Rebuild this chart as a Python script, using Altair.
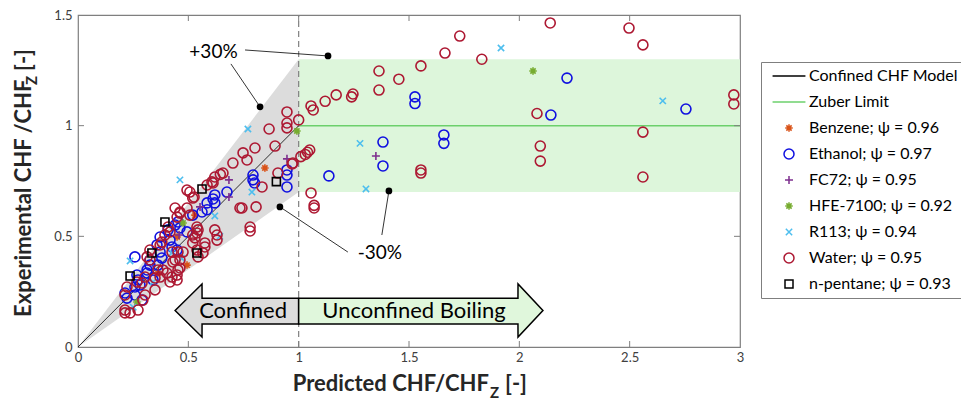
import altair as alt
import pandas as pd

# ---------------- data ----------------
benzene_x = [0.847, 0.53, 0.449, 0.494, 0.362]
benzene_y = [0.809, 0.596, 0.497, 0.37, 0.334]

ethanol_x = [1.527, 1.527, 1.658, 1.658, 1.382, 1.382, 1.137, 2.216, 2.143, 2.755,
             0.793, 0.793, 0.80, 0.947, 0.947, 0.947, 0.675, 0.62, 0.612, 0.585,
             0.62, 0.585, 0.562, 0.52, 0.453, 0.462, 0.494, 0.417, 0.426, 0.372,
             0.38, 0.362, 0.326, 0.313, 0.258, 0.267, 0.272, 0.281, 0.258, 0.213,
             0.222, 0.258, 0.372, 0.449, 0.358, 0.326, 0.29, 0.313, 0.34, 0.408, 0.44]
ethanol_y = [1.13, 1.10, 0.958, 0.92, 0.926, 0.818, 0.773, 1.215, 1.048, 1.075,
             0.777, 0.755, 0.741, 0.80, 0.777, 0.723, 0.70, 0.687, 0.669, 0.651,
             0.651, 0.62, 0.61, 0.596, 0.565, 0.538, 0.52, 0.483, 0.452, 0.497,
             0.402, 0.37, 0.37, 0.348, 0.407, 0.325, 0.303, 0.28, 0.271, 0.244,
             0.221, 0.235, 0.429, 0.438, 0.461, 0.393, 0.212, 0.334, 0.303, 0.529, 0.551]

fc72_x = [1.35, 0.947, 0.684, 0.684, 0.553, 0.458]
fc72_y = [0.863, 0.85, 0.755, 0.678, 0.633, 0.506]

hfe_x = [2.062, 0.992, 0.476, 0.267]
hfe_y = [1.247, 0.976, 0.56, 0.203]

r113_x = [1.917, 1.278, 1.305, 2.65, 0.77, 0.788, 0.62, 0.643, 0.462, 0.236, 0.426, 0.34, 0.25, 0.47]
r113_y = [1.351, 0.92, 0.714, 1.112, 0.985, 0.70, 0.592, 0.50, 0.755, 0.389, 0.425, 0.294, 0.18, 0.40]

water_x = [1.73, 1.663, 1.83, 1.554, 1.364, 1.454, 1.364, 1.246, 1.24, 1.17,
           1.12, 1.056, 1.066, 1.00, 1.05, 1.04, 1.03, 1.01, 0.97, 1.056,
           1.07, 1.07, 1.554, 1.554, 2.08, 2.095, 2.095, 2.14, 2.497, 2.56,
           2.56, 2.56, 2.972, 2.972,
           0.947, 0.947, 0.947, 0.866, 0.893, 0.802, 0.748, 0.766, 0.702, 0.657,
           0.645, 0.62, 0.607, 0.585, 0.906, 0.974, 0.834, 0.743, 0.807, 0.612,
           0.494, 0.507, 0.52, 0.526, 0.44, 0.462, 0.494, 0.507, 0.408, 0.417,
           0.394, 0.539, 0.544, 0.539, 0.52, 0.53, 0.575, 0.575, 0.62, 0.63,
           0.63, 0.734, 0.78, 0.78, 0.566, 0.544, 0.539, 0.52, 0.462, 0.449,
           0.372, 0.38, 0.453,
           0.326, 0.313, 0.326, 0.426, 0.44, 0.476, 0.462, 0.362, 0.385, 0.403,
           0.426, 0.449, 0.453, 0.372, 0.349, 0.304, 0.29, 0.267, 0.349, 0.222,
           0.213, 0.213, 0.213, 0.272, 0.304, 0.294, 0.43, 0.462, 0.417, 0.449, 0.236]
water_y = [1.405, 1.328, 1.30, 1.27, 1.247, 1.21, 1.161, 1.143, 1.13, 1.139,
           1.11, 1.089, 1.071, 1.026, 0.89, 0.88, 0.87, 0.86, 0.827, 0.696,
           0.64, 0.628, 0.80, 0.786, 1.055, 0.908, 0.84, 1.464, 1.441, 1.365,
           0.971, 0.768, 1.139, 1.098,
           1.062, 1.012, 0.99, 0.985, 0.908, 0.899, 0.877, 0.845, 0.831, 0.786,
           0.78, 0.768, 0.746, 0.732, 0.786, 0.831, 0.723, 0.628, 0.633, 0.741,
           0.709, 0.70, 0.673, 0.678, 0.628, 0.605, 0.628, 0.596, 0.542, 0.52,
           0.506, 0.542, 0.529, 0.515, 0.506, 0.493, 0.47, 0.452, 0.529, 0.506,
           0.483, 0.628, 0.542, 0.524, 0.425, 0.407, 0.438, 0.47, 0.61, 0.587,
           0.461, 0.474, 0.429,
           0.438, 0.407, 0.393, 0.429, 0.393, 0.429, 0.393, 0.348, 0.348, 0.334,
           0.316, 0.325, 0.348, 0.316, 0.312, 0.316, 0.289, 0.294, 0.258, 0.271,
           0.235, 0.167, 0.154, 0.167, 0.235, 0.212, 0.384, 0.357, 0.294, 0.303, 0.154]

pentane_x = [0.899, 0.562, 0.394, 0.335, 0.539, 0.236]
pentane_y = [0.747, 0.714, 0.565, 0.425, 0.425, 0.321]

# model line, Zuber limit, bands
model_x = [0.0, 1.0]
model_y = [0.0, 1.0]
zuber_x = [1.0, 3.0]
zuber_y = [1.0, 1.0]
band_x = [0.0, 1.0]
band_hi = [0.0, 1.3]
band_lo = [0.0, 0.7]

# arrows (polygon outline as top / bottom edges, in x order)
conf_x = [0.44, 0.562, 0.5622, 1.0]
conf_top = [0.165, 0.285, 0.22, 0.22]
conf_bot = [0.165, 0.045, 0.104, 0.104]
unconf_x = [1.0, 1.9938, 1.994, 2.107]
unconf_top = [0.22, 0.22, 0.285, 0.165]
unconf_bot = [0.104, 0.104, 0.045, 0.165]

# annotations
ann_from_x = [0.693, 0.757, 1.223, 1.377]
ann_from_y = [1.279, 1.342, 0.429, 0.506]
ann_dot_x = [0.825, 1.133, 0.915, 1.409]
ann_dot_y = [1.085, 1.315, 0.633, 0.705]
ann_text = ["+30%", "-30%"]
ann_text_x = [0.614, 1.368]
ann_text_y = [1.333, 0.425]

x_ticks = [0, 0.5, 1, 1.5, 2, 2.5, 3]
y_ticks = [0, 0.5, 1, 1.5]
x_inner = [0.5, 1, 1.5, 2, 2.5]
y_inner = [0.5, 1]

# ---------------- build tables ----------------
labels = ["Confined CHF Model", "Zuber Limit",
          "Benzene; ψ = 0.96", "Ethanol; ψ = 0.97", "FC72; ψ = 0.95",
          "HFE-7100; ψ = 0.92", "R113; ψ = 0.94", "Water; ψ = 0.95",
          "n-pentane; ψ = 0.93"]
series = [(labels[2], benzene_x, benzene_y), (labels[3], ethanol_x, ethanol_y),
          (labels[4], fc72_x, fc72_y), (labels[5], hfe_x, hfe_y),
          (labels[6], r113_x, r113_y), (labels[7], water_x, water_y),
          (labels[8], pentane_x, pentane_y)]
rows = []
for k, (name, xs, ys) in enumerate(series):
    for a, b in zip(xs, ys):
        rows.append({"x": a, "y": b, "fluid": name, "k": k})
pts = pd.DataFrame(rows)

LINE = "M-6,0H6"
ASTER = "M-1,0H1M0,-1V1M-0.7,-0.7L0.7,0.7M-0.7,0.7L0.7,-0.7"
PLUS = "M-1,0H1M0,-1V1"
XSH = "M-1,-1L1,1M-1,1L1,-1"
colors = ["#000000", "#6CD06C", "#D95319", "#1010E0", "#7E2F8E",
          "#77AC30", "#4DBEEE", "#AD1832", "#000000"]
shapes = [LINE, LINE, ASTER, "circle", PLUS, ASTER, XSH, "circle", "square"]
sizes = [30, 30, 56, 100, 64, 56, 40, 100, 64]

XS = alt.Scale(domain=[0, 3], nice=False, zero=False)
YS = alt.Scale(domain=[0, 1.5], nice=False, zero=False)
AX_FONT = "Lato"
XA = alt.Axis(values=x_ticks, format="~g", title=None, grid=False, domain=False,
              ticks=False, labelFont=AX_FONT, labelFontSize=13, labelColor="#404040",
              labelPadding=4, labelFlush=False)
YA = alt.Axis(values=y_ticks, format="~g", title=None, grid=False, domain=False,
              ticks=False, labelFont=AX_FONT, labelFontSize=13, labelColor="#404040",
              labelPadding=6, labelFlush=False)


def X(f):
    return alt.X(f, type="quantitative", scale=XS, axis=XA)


def Y(f):
    return alt.Y(f, type="quantitative", scale=YS, axis=YA)


band = alt.Chart(pd.DataFrame({"x": band_x, "hi": band_hi, "lo": band_lo})).mark_area(
    color="#DCDCDC", opacity=1).encode(x=X("x"), y=Y("lo"), y2=alt.Y2("hi"))

green = alt.Chart(pd.DataFrame({"x": [zuber_x[0]], "x2": [zuber_x[1]],
                                "lo": [0.7], "hi": [1.3]})).mark_rect(
    color="#DDF6DB").encode(x=X("x"), x2=alt.X2("x2"), y=Y("lo"), y2=alt.Y2("hi"))

dash = alt.Chart(pd.DataFrame({"x": [1.0], "y0": [0.0], "y1": [1.5]})).mark_rule(
    color="#7f7f7f", strokeDash=[6, 4], strokeWidth=1.2).encode(
    x=X("x"), y=Y("y0"), y2=alt.Y2("y1"))

model = alt.Chart(pd.DataFrame({"x": model_x, "y": model_y})).mark_line(
    color="#000000", strokeWidth=0.8).encode(x=X("x"), y=Y("y"))

zuber = alt.Chart(pd.DataFrame({"x": zuber_x, "y": zuber_y})).mark_line(
    color="#6CD06C", strokeWidth=1.5).encode(x=X("x"), y=Y("y"))

conf = alt.Chart(pd.DataFrame({"x": conf_x, "top": conf_top, "bot": conf_bot})).mark_area(
    fill="#DCDCDC", stroke="#000000", strokeWidth=1.5, opacity=1).encode(
    x=X("x"), y=Y("top"), y2=alt.Y2("bot"))

unconf = alt.Chart(pd.DataFrame({"x": unconf_x, "top": unconf_top, "bot": unconf_bot})).mark_area(
    fill="#E0F7DC", stroke="#000000", strokeWidth=1.5, opacity=1).encode(
    x=X("x"), y=Y("top"), y2=alt.Y2("bot"))

arrow_txt = alt.Chart(pd.DataFrame({"t": ["Confined", "Unconfined Boiling"],
                                    "x": [0.748, 1.523], "y": [0.163, 0.163]})).mark_text(
    font="Lato", fontSize=22, color="#000000", align="center", baseline="middle").encode(
    x=X("x"), y=Y("y"), text="t:N")

ann = pd.DataFrame({"x": ann_from_x, "y": ann_from_y, "x2": ann_dot_x, "y2": ann_dot_y})
ann_lines = alt.Chart(ann).mark_rule(color="#000000", strokeWidth=0.8).encode(
    x=X("x"), y=Y("y"), x2=alt.X2("x2"), y2=alt.Y2("y2"))
ann_dots = alt.Chart(ann).mark_point(filled=True, color="#000000", size=45, opacity=1).encode(
    x=X("x2"), y=Y("y2"))
ann_txt = alt.Chart(pd.DataFrame({"t": ann_text, "x": ann_text_x, "y": ann_text_y})).mark_text(
    font="Lato", fontSize=19, color="#000000", align="center", baseline="middle").encode(
    x=X("x"), y=Y("y"), text="t:N")

legend = alt.Legend(title=None, orient="none", legendX=683, legendY=47,
                    strokeColor="#7f7f7f", fillColor="#ffffff", padding=6,
                    labelFont="Lato", labelFontSize=16, labelColor="#000000",
                    rowPadding=10, symbolOffset=14, labelOffset=12,
                    symbolStrokeWidth=1.5, labelLimit=400, cornerRadius=0)

points = alt.Chart(pts).mark_point(filled=False, strokeWidth=1.6, opacity=1).encode(
    x=X("x"), y=Y("y"),
    color=alt.Color("fluid:N", scale=alt.Scale(domain=labels, range=colors), legend=legend),
    shape=alt.Shape("fluid:N", scale=alt.Scale(domain=labels, range=shapes), legend=legend),
    size=alt.Size("fluid:N", scale=alt.Scale(type="ordinal", domain=labels, range=sizes),
                  legend=legend),
    order=alt.Order("k:Q"))

# inward ticks on all four sides
tx = pd.DataFrame({"v": x_inner})
ty = pd.DataFrame({"v": y_inner})
tick_bottom = alt.Chart(tx).mark_rule(color="#7f7f7f").encode(
    x=X("v"), y=alt.value(332), y2=alt.value(326))
tick_top = alt.Chart(tx).mark_rule(color="#7f7f7f").encode(
    x=X("v"), y=alt.value(0), y2=alt.value(6))
tick_left = alt.Chart(ty).mark_rule(color="#7f7f7f").encode(
    y=Y("v"), x=alt.value(0), x2=alt.value(6))
tick_right = alt.Chart(ty).mark_rule(color="#7f7f7f").encode(
    y=Y("v"), x=alt.value(662), x2=alt.value(656))

# axis titles with subscript Z
one = pd.DataFrame({"t": ["a"]})
xt1 = alt.Chart(one).mark_text(text="Predicted CHF/CHF", font="Lato", fontWeight="bold",
                               fontSize=22, align="right", baseline="alphabetic",
                               color="#262626").encode(x=alt.value(411), y=alt.value(376))
xt2 = alt.Chart(one).mark_text(text="Z", font="Lato", fontWeight="bold", fontSize=15,
                               align="left", baseline="alphabetic",
                               color="#262626").encode(x=alt.value(412), y=alt.value(383))
xt3 = alt.Chart(one).mark_text(text="[-]", font="Lato", fontWeight="bold", fontSize=22,
                               align="left", baseline="alphabetic",
                               color="#262626").encode(x=alt.value(427), y=alt.value(376))
yt1 = alt.Chart(one).mark_text(text="Experimental CHF /CHF", font="Lato", fontWeight="bold",
                               fontSize=22, align="left", baseline="alphabetic", angle=270,
                               color="#262626").encode(x=alt.value(-47), y=alt.value(302))
yt2 = alt.Chart(one).mark_text(text="Z", font="Lato", fontWeight="bold", fontSize=15,
                               align="left", baseline="alphabetic", angle=270,
                               color="#262626").encode(x=alt.value(-41), y=alt.value(70))
yt3 = alt.Chart(one).mark_text(text="[-]", font="Lato", fontWeight="bold", fontSize=22,
                               align="left", baseline="alphabetic", angle=270,
                               color="#262626").encode(x=alt.value(-47), y=alt.value(56))

chart = alt.layer(
    green, band, dash, zuber, model, conf, unconf, arrow_txt,
    points, ann_lines, ann_dots, ann_txt,
    tick_bottom, tick_top, tick_left, tick_right,
    xt1, xt2, xt3, yt1, yt2, yt3,
).properties(
    width=662, height=332,
    autosize=alt.AutoSizeParams(type="none"),
    padding={"left": 70, "top": 7, "right": 221, "bottom": 53},
    background="#ffffff",
).configure_view(stroke="#7f7f7f", strokeWidth=1.2)

chart.save("out.html", embed_options={"renderer": "svg", "actions": False})
